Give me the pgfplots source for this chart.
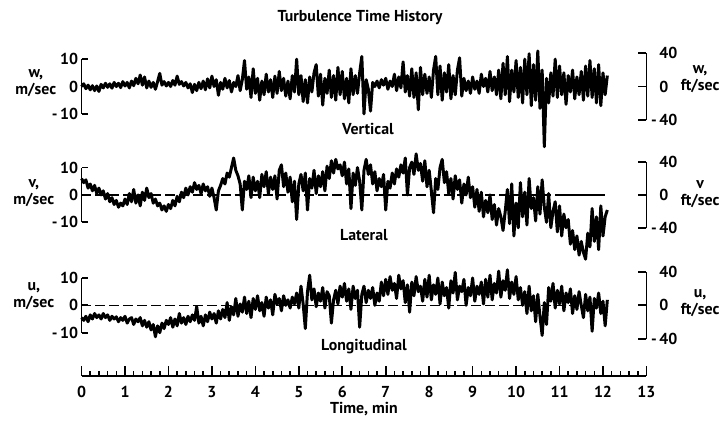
\documentclass[border=0pt]{standalone}
\usepackage{fontspec}
\setmainfont{PT Sans}
\usepackage{pgfplots}
\usepackage{pgfplotstable}
\pgfplotsset{compat=1.18}

\newcommand{\lab}{\fontsize{8}{8.5}\selectfont\bfseries}

% samples every 0.05 min, 0 ... 12.10 min
\pgfplotstableread[row sep=\\]{
w\\
0\\ 1.0\\ -0.8\\ 0.5\\ -1.2\\ 0.3\\ -1.5\\ 0.2\\ -1.8\\ 0.8\\ -0.5\\ 1.2\\ -0.3\\ 1.0\\ -0.6\\ 1.5\\ 0.0\\ 1.2\\ -0.4\\ 1.8\\
0.2\\ 1.5\\ -0.5\\ 2.0\\ 0.3\\ 3.0\\ 1.0\\ 4.2\\ 0.5\\ 3.5\\ -0.5\\ 2.0\\ -0.3\\ 1.5\\ -1.0\\ 1.8\\ 4.8\\ 0.5\\ 1.8\\ 0.2\\
1.5\\ 0.0\\ 2.2\\ 0.5\\ 3.8\\ 0.8\\ 1.8\\ 0.2\\ 1.5\\ -0.5\\ 1.0\\ -2.2\\ 0.8\\ -1.5\\ 1.5\\ -0.8\\ 2.0\\ -1.2\\ 2.8\\ -0.5\\
3.8\\ 0.0\\ 2.5\\ -3.2\\ 1.5\\ -1.0\\ 3.0\\ -0.5\\ 2.2\\ -2.0\\ 1.5\\ 0.0\\ 4.0\\ -1.5\\ 2.5\\ 9.5\\ -1.0\\ 3.5\\ -4.0\\ 6.5\\
-2.5\\ 3.0\\ -5.0\\ 2.0\\ -3.0\\ 4.5\\ -2.0\\ 2.5\\ -4.0\\ 3.8\\ -2.5\\ 5.5\\ -1.5\\ 3.0\\ -3.5\\ 2.0\\ -4.5\\ 4.0\\ -2.0\\ 10.0\\
-3.0\\ 4.0\\ -5.5\\ 2.5\\ -6.0\\ 3.5\\ -2.0\\ 5.0\\ 8.0\\ -3.5\\ 4.5\\ -6.8\\ 3.0\\ -2.5\\ 6.0\\ -4.0\\ 4.0\\ -5.0\\ 7.0\\ -3.0\\
5.5\\ -4.5\\ 3.0\\ -6.0\\ 6.5\\ -3.0\\ 4.0\\ -2.5\\ 5.0\\ 11.0\\ -10.0\\ 2.5\\ -1.0\\ -9.0\\ 1.5\\ 0.0\\ 2.0\\ -0.5\\ 2.5\\ 0.5\\
3.0\\ -1.0\\ 2.0\\ 0.0\\ 4.5\\ -1.5\\ 3.5\\ -0.5\\ 9.0\\ -2.0\\ 4.0\\ -3.5\\ 6.5\\ -4.0\\ 5.0\\ -8.5\\ 7.0\\ -3.0\\ 4.5\\ -2.5\\
3.5\\ -4.0\\ 6.0\\ 11.0\\ -3.0\\ 7.5\\ -5.0\\ 5.0\\ -2.0\\ 8.0\\ -4.5\\ 4.0\\ -3.0\\ 6.0\\ 10.5\\ -3.5\\ 3.0\\ -1.5\\ 2.0\\ -2.5\\
3.5\\ -1.0\\ 2.0\\ -2.5\\ 4.5\\ 0.0\\ 3.0\\ -2.0\\ 5.5\\ -1.5\\ 3.5\\ -3.0\\ 6.0\\ -4.5\\ 8.5\\ -3.0\\ 11.0\\ -5.5\\ 6.0\\ -2.0\\
9.5\\ -4.0\\ 7.0\\ -6.0\\ 10.0\\ -3.0\\ 12.0\\ -7.0\\ 8.0\\ -5.0\\ 13.0\\ -8.0\\ 6.0\\ -22.0\\ 3.0\\ -6.0\\ 5.0\\ -3.5\\ 10.0\\ -4.0\\
7.5\\ -3.0\\ 5.0\\ -6.5\\ 4.0\\ -2.0\\ 6.0\\ -4.5\\ 3.5\\ -3.0\\ 5.5\\ -5.0\\ 7.5\\ -3.5\\ 9.5\\ -4.0\\ 6.5\\ -6.0\\ 8.0\\ -7.0\\
5.0\\ -3.0\\ 4.0\\
}\wdata

\pgfplotstableread[row sep=\\]{
v\\
6.0\\ 4.5\\ 5.5\\ 2.5\\ 4.0\\ 1.5\\ 3.5\\ 0.5\\ 2.5\\ 0.0\\ 1.5\\ -1.5\\ 0.5\\ -2.5\\ -1.0\\ -3.5\\ -2.0\\ -4.5\\ -3.0\\ -4.0\\
-1.5\\ -3.5\\ 0.5\\ -2.5\\ 2.0\\ -3.0\\ 0.0\\ -4.0\\ 1.0\\ -2.0\\ 2.5\\ -1.0\\ 0.5\\ -3.0\\ -1.5\\ -4.0\\ -3.0\\ -5.5\\ -4.0\\ -6.0\\
-3.5\\ -5.0\\ -2.0\\ -4.0\\ -0.5\\ -2.5\\ 1.0\\ -1.0\\ 2.5\\ 0.0\\ 3.0\\ 1.0\\ 4.5\\ 2.0\\ 3.5\\ 0.5\\ 4.0\\ 1.5\\ 3.0\\ -0.5\\
2.5\\ -1.0\\ -5.5\\ 1.5\\ 3.5\\ 6.0\\ 4.0\\ 8.0\\ 6.5\\ 10.0\\ 13.5\\ 9.0\\ 7.0\\ 4.0\\ -5.5\\ 5.0\\ 2.0\\ 7.0\\ -1.0\\ 6.5\\
1.5\\ 5.0\\ -1.0\\ 7.5\\ 3.0\\ 8.5\\ 0.5\\ 6.5\\ 2.0\\ 7.0\\ -1.5\\ 9.0\\ 11.0\\ 3.0\\ 8.0\\ 1.0\\ 6.5\\ -2.5\\ 5.0\\ -9.0\\
4.0\\ 7.5\\ 1.5\\ 8.0\\ -5.5\\ 6.0\\ 2.5\\ 9.0\\ 0.5\\ 7.0\\ 3.0\\ 8.5\\ 1.5\\ 10.5\\ 6.0\\ 12.5\\ 8.0\\ 13.0\\ 9.5\\ 11.0\\
7.0\\ 12.0\\ 4.0\\ 9.5\\ -5.0\\ 8.0\\ 3.5\\ 10.0\\ 5.0\\ -5.5\\ 9.0\\ 13.0\\ 7.5\\ 11.0\\ 4.0\\ 8.5\\ 1.5\\ 6.0\\ 3.0\\ 7.5\\
-5.5\\ 5.0\\ 2.5\\ 8.0\\ 4.0\\ 9.5\\ 6.5\\ 11.0\\ 8.0\\ 13.5\\ 0.0\\ 10.0\\ 12.0\\ 7.5\\ 15.0\\ 9.0\\ 11.5\\ 5.0\\ 12.5\\ 3.0\\
9.0\\ 1.5\\ -6.5\\ 6.0\\ 2.0\\ 10.0\\ 13.0\\ 4.5\\ 8.5\\ 0.5\\ 6.0\\ -1.5\\ 7.0\\ 2.0\\ 5.5\\ -3.0\\ 4.0\\ 0.0\\ 6.5\\ -1.0\\
3.0\\ -4.5\\ 2.0\\ -6.0\\ 1.0\\ -8.0\\ -2.0\\ -6.5\\ 0.0\\ -9.0\\ -3.5\\ -11.0\\ -5.0\\ -8.0\\ -13.0\\ -6.0\\ 2.0\\ -10.5\\ 4.0\\ -15.0\\
-3.0\\ -12.0\\ 4.5\\ -8.0\\ 1.0\\ -11.0\\ 6.0\\ -5.0\\ -1.0\\ -9.5\\ 3.0\\ -7.0\\ 5.5\\ -4.5\\ -10.0\\ 0.5\\ -12.0\\ -6.0\\ -2.5\\ -13.5\\
-4.0\\ -15.0\\ -7.0\\ -12.0\\ -9.0\\ -18.0\\ -13.0\\ -20.0\\ -15.0\\ -22.0\\ -17.0\\ -21.0\\ -23.5\\ -14.0\\ -19.0\\ -5.0\\ -17.0\\ -8.0\\ -20.0\\ -4.0\\
-15.0\\ -8.0\\ -5.5\\
}\vdata

\pgfplotstableread[row sep=\\]{
u\\
-4.5\\ -5.5\\ -4.0\\ -6.0\\ -3.5\\ -5.0\\ -3.0\\ -4.5\\ -3.5\\ -5.0\\ -3.0\\ -4.5\\ -3.5\\ -5.5\\ -4.0\\ -5.0\\ -4.2\\ -6.0\\ -4.5\\ -5.5\\
-4.0\\ -6.5\\ -5.0\\ -4.5\\ -7.0\\ -5.0\\ -6.0\\ -4.5\\ -7.5\\ -5.5\\ -8.0\\ -6.0\\ -9.0\\ -7.0\\ -11.5\\ -7.5\\ -10.0\\ -6.5\\ -8.5\\ -5.5\\
-7.0\\ -4.5\\ -8.0\\ -5.0\\ -7.5\\ -3.0\\ -6.5\\ -4.5\\ -7.0\\ -4.0\\ -6.0\\ -3.5\\ -5.5\\ -0.5\\ -6.5\\ -4.0\\ -7.5\\ -3.5\\ -6.0\\ -2.5\\
-5.0\\ -3.0\\ -6.5\\ -2.0\\ -5.0\\ -1.5\\ -4.5\\ 1.0\\ -5.5\\ -0.5\\ -3.5\\ 2.5\\ -4.0\\ 0.5\\ -2.5\\ 3.0\\ -3.0\\ 1.5\\ -4.5\\ 2.5\\
-1.5\\ 3.5\\ -2.0\\ 1.0\\ -4.0\\ 3.0\\ -1.0\\ 2.0\\ -3.5\\ 4.0\\ 0.5\\ 2.5\\ -2.0\\ 3.5\\ 0.0\\ 2.0\\ -1.0\\ 3.0\\ 0.5\\ 4.5\\
-1.0\\ 7.0\\ 0.5\\ -8.5\\ 5.0\\ 11.0\\ 2.0\\ 6.0\\ -0.5\\ 4.5\\ 1.5\\ 6.5\\ -1.0\\ 5.0\\ 3.5\\ -6.5\\ 2.0\\ 5.5\\ 0.5\\ 7.0\\
3.0\\ 8.0\\ 1.5\\ 6.0\\ -1.5\\ 7.0\\ 2.5\\ 5.5\\ -8.0\\ 4.0\\ 7.0\\ 1.0\\ 5.5\\ 2.5\\ 6.5\\ 0.0\\ 4.5\\ 1.5\\ 8.5\\ 3.5\\
9.5\\ 4.0\\ 10.5\\ 5.5\\ 8.0\\ 2.5\\ 11.0\\ 6.0\\ 9.0\\ 1.0\\ 7.5\\ -2.5\\ 8.5\\ 3.5\\ 10.5\\ 5.0\\ 7.0\\ 1.5\\ 9.5\\ 3.0\\
11.0\\ 2.0\\ 7.5\\ 4.0\\ 10.0\\ 0.5\\ 8.5\\ 3.5\\ 6.5\\ -1.0\\ 9.0\\ 4.5\\ 12.0\\ 2.0\\ 7.0\\ 5.0\\ 9.5\\ 0.0\\ 6.5\\ 3.5\\
10.0\\ 1.5\\ 7.0\\ 4.0\\ 8.5\\ 0.5\\ 9.5\\ 3.0\\ 11.0\\ 2.0\\ 8.0\\ 4.5\\ 12.5\\ 3.0\\ 9.0\\ 5.5\\ 13.0\\ 2.5\\ 8.5\\ 4.0\\
10.5\\ 2.0\\ 6.5\\ 0.0\\ 5.0\\ -3.0\\ 7.0\\ -2.0\\ 3.5\\ -6.0\\ 4.0\\ -4.0\\ -11.0\\ 1.0\\ -7.0\\ 6.5\\ 1.5\\ 8.0\\ -1.0\\ 5.5\\
0.5\\ 7.0\\ -2.0\\ 4.5\\ 1.0\\ 6.0\\ -3.0\\ 3.5\\ -1.5\\ 5.0\\ 0.0\\ -4.5\\ 4.0\\ -2.0\\ 3.0\\ -9.5\\ 2.5\\ -1.0\\ 4.5\\ -3.0\\
1.5\\ -7.5\\ 2.0\\
}\udata

\pgfplotsset{
  trace/.style={black, line width=1.5bp, line join=round},
  zeroline/.style={black, line width=0.6bp, dash pattern=on 5bp off 2bp},
  leftax/.style={
    width=284bp, height=27.5bp, scale only axis, clip=false,
    xmin=0, xmax=13, ymin=-10, ymax=10,
    axis x line=none, axis y line*=left,
    axis line style={-, line width=0.9bp},
    ytick={-10,0,10}, yticklabels={-\,10,0,10},
    tick align=inside, major tick length=3bp,
    tick style={black, line width=0.9bp},
    yticklabel style={font=\lab, inner sep=1.5bp},
  },
  rightax/.style={
    width=284bp, height=33.5bp, scale only axis,
    xmin=0, xmax=13, ymin=-40, ymax=40,
    axis x line=none, axis y line*=right,
    axis line style={-, line width=0.9bp},
    ytick={-40,0,40}, yticklabels={\llap{-\,}40,0,40},
    tick align=inside, major tick length=4bp,
    tick style={black, line width=0.9bp},
    yticklabel style={font=\lab, xshift=3bp},
  },
}

\begin{document}
\begin{tikzpicture}
\path (0,0) rectangle (363bp,-214.5bp);

% --- vertical ---
\begin{axis}[leftax, at={(41bp,-43.5bp)}, anchor=west]
\addplot[trace] table[x expr=\coordindex*0.05, y=w] {\wdata};
\end{axis}
\begin{axis}[rightax, at={(41bp,-43.5bp)}, anchor=west]
\end{axis}

% --- lateral ---
\begin{axis}[leftax, at={(41bp,-98bp)}, anchor=west]
\addplot[zeroline] coordinates {(0,0) (11,0)};
\addplot[black, line width=0.6bp] coordinates {(11,0) (12.05,0)};
\addplot[trace] table[x expr=\coordindex*0.05, y=v] {\vdata};
\end{axis}
\begin{axis}[rightax, at={(41bp,-98bp)}, anchor=west]
\end{axis}

% --- longitudinal ---
\begin{axis}[leftax, at={(41bp,-153.5bp)}, anchor=west]
\addplot[zeroline] coordinates {(0,0) (12.05,0)};
\addplot[trace] table[x expr=\coordindex*0.05, y=u] {\udata};
\end{axis}
\begin{axis}[rightax, at={(41bp,-153.5bp)}, anchor=west]
\end{axis}

% --- time axis ---
\begin{axis}[
  width=284bp, height=8bp, scale only axis,
  at={(41bp,-189bp)}, anchor=south west,
  xmin=0, xmax=13, ymin=0, ymax=1,
  axis x line*=bottom, axis y line=none,
  axis line style={-, line width=1bp},
  xtick={0,1,2,3,4,5,6,7,8,9,10,11,12,13},
  xticklabels={0,1,2,3,4,5,6,7,8,9,10,11,12,13},
  minor x tick num=4,
  tick align=inside, major tick length=5bp, minor tick length=2.5bp,
  tick style={black, line width=0.8bp},
  xticklabel style={font=\lab, yshift=-1.5bp},
]
\end{axis}

\node[font=\lab] at (181bp,-9bp) {Turbulence Time History};
\node[font=\lab] at (185bp,-65bp) {Vertical};
\node[font=\lab] at (183bp,-118bp) {Lateral};
\node[font=\lab] at (183bp,-174bp) {Longitudinal};
\node[font=\lab] at (183bp,-205.5bp) {Time, min};

\node[font=\lab, align=center] at (18bp,-42bp) {w,\\m/sec};
\node[font=\lab, align=center] at (17bp,-97bp) {v,\\m/sec};
\node[font=\lab, align=center] at (17bp,-149bp) {u,\\m/sec};

\node[font=\lab, align=center] at (352bp,-40bp) {w,\\ft/sec};
\node[font=\lab, align=center] at (352bp,-97.5bp) {v\\ft/sec};
\node[font=\lab, align=center] at (352bp,-152.5bp) {u,\\ft/sec};
\end{tikzpicture}
\end{document}
